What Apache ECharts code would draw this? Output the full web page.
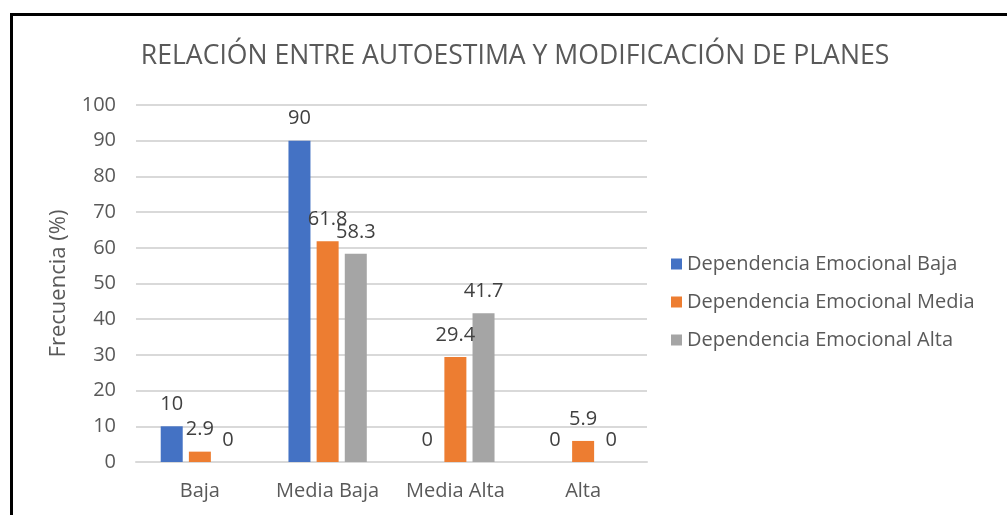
<!DOCTYPE html>
<html>
<head>
<meta charset="utf-8">
<script src="https://cdn.jsdelivr.net/npm/echarts@6/dist/echarts.min.js"></script>
<style>
  html, body { margin: 0; padding: 0; background: #fff; }
  #main { width: 1007px; height: 515px; }
  .frame {
    position: absolute; left: 10px; top: 13px; width: 1100px; height: 600px;
    border-left: 3px solid #000; border-top: 3px solid #000; pointer-events: none;
  }
</style>
</head>
<body>
<div id="main"></div>
<div class="frame"></div>
<script>
const categories = ['Baja', 'Media Baja', 'Media Alta', 'Alta']
const seriesNames = [
  'Dependencia Emocional Baja',
  'Dependencia Emocional Media',
  'Dependencia Emocional Alta'
]
const depBaja = [10, 90, 0, 0]
const depMedia = [2.9, 61.8, 29.4, 5.9]
const depAlta = [0, 58.3, 41.7, 0]
const colors = ['#4472C4', '#ED7D31', '#A5A5A5']

const font = 'Open Sans'
const chart = echarts.init(document.getElementById('main'))

const mk = (name, data, i) => ({
  name: name,
  type: 'bar',
  data: data,
  barWidth: 22,
  barGap: '28%',
  itemStyle: { color: colors[i] },
  label: {
    show: true,
    position: 'top',
    distance: 12,
    color: '#404040',
    fontSize: 20,
    fontFamily: font
  }
})

chart.setOption({
  animation: false,
  title: {
    text: 'RELACIÓN ENTRE AUTOESTIMA Y MODIFICACIÓN DE PLANES',
    left: 510,
    textAlign: 'center',
    top: 38,
    textStyle: { color: '#595959', fontSize: 26.6, fontWeight: 'normal', fontFamily: font }
  },
  legend: {
    orient: 'vertical',
    left: 666,
    top: 249,
    itemWidth: 11,
    itemHeight: 11,
    itemGap: 18,
    icon: 'rect',
    textStyle: { color: '#595959', fontSize: 20, fontFamily: font }
  },
  grid: { left: 136, right: 360, top: 105, bottom: 53 },
  xAxis: {
    type: 'category',
    data: categories,
    axisTick: { show: false },
    axisLine: { lineStyle: { color: '#d9d9d9', width: 2 } },
    axisLabel: { interval: 0, color: '#595959', fontSize: 20, fontFamily: font, margin: 19 }
  },
  yAxis: {
    type: 'value',
    min: 0,
    max: 100,
    interval: 10,
    name: 'Frecuencia (%)',
    nameLocation: 'middle',
    nameGap: 66,
    nameTextStyle: { color: '#595959', fontSize: 22, fontFamily: font },
    axisLabel: { color: '#595959', fontSize: 20, fontFamily: font, margin: 20 },
    splitLine: { lineStyle: { color: '#d9d9d9', width: 2 } }
  },
  series: [
    mk(seriesNames[0], depBaja, 0),
    mk(seriesNames[1], depMedia, 1),
    mk(seriesNames[2], depAlta, 2)
  ]
})
</script>
</body>
</html>
